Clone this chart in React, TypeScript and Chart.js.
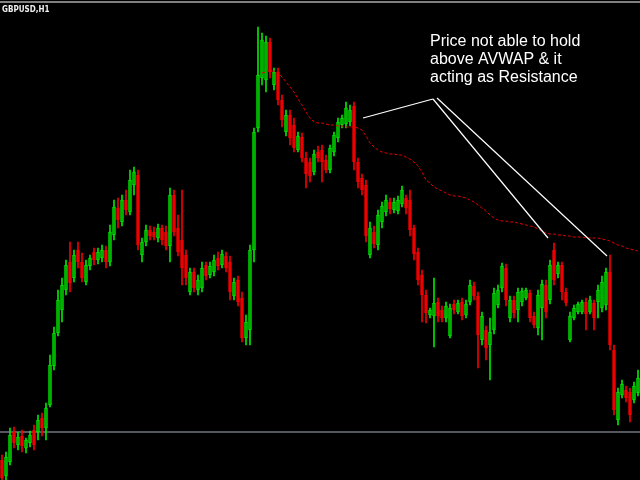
import React, { useEffect, useRef } from "react";
import { Chart, registerables } from "chart.js";

Chart.register(...registerables);

// Price values (pips above an arbitrary base), one entry per H1 candle
const opens = [
  20, 4, 18, 48, 35, 44, 32, 37, 50, 48,
  62, 52, 75, 114, 147, 170, 190, 218, 202, 230,
  218, 198, 214, 228, 220, 222, 230, 218, 245, 272,
  258, 280, 268, 295, 305, 225, 238, 250, 248, 242,
  252, 248, 234, 285, 252, 240, 225, 188, 208, 190,
  192, 215, 205, 208, 222, 215, 224, 218, 184, 200,
  182, 142, 150, 230, 352, 402, 400, 438, 395, 408,
  380, 348, 365, 355, 330, 343, 322, 318, 308, 328,
  330, 320, 310, 328, 342, 355, 356, 358, 374, 318,
  302, 295, 225, 248, 235, 258, 268, 278, 270, 269,
  276, 282, 280, 252, 228, 205, 185, 165, 164, 178,
  170, 162, 144, 176, 168, 178, 165, 178, 194, 184,
  140, 150, 135, 150, 175, 192, 212, 162, 180, 170,
  178, 182, 187, 164, 152, 172, 195, 180, 230, 206,
  215, 188, 140, 162, 168, 168, 178, 168, 177, 178,
  172, 175, 208, 130, 60, 85, 90, 88, 80, 87,
];
const highs = [
  25, 28, 52, 53, 48, 50, 42, 49, 55, 65,
  67, 77, 125, 153, 190, 202, 220, 238, 230, 238,
  227, 220, 225, 232, 232, 235, 234, 255, 280, 282,
  285, 290, 310, 313, 310, 242, 255, 254, 253, 256,
  255, 254, 292, 290, 265, 290, 230, 212, 212, 205,
  218, 218, 218, 225, 228, 230, 228, 224, 202, 204,
  188, 165, 235, 352, 453, 447, 444, 442, 412, 412,
  385, 370, 370, 362, 348, 347, 328, 322, 330, 334,
  335, 325, 335, 348, 362, 365, 378, 375, 378, 322,
  306, 300, 258, 254, 270, 278, 285, 282, 282, 284,
  294, 285, 290, 255, 232, 210, 190, 172, 202, 182,
  174, 178, 176, 180, 180, 182, 180, 200, 198, 188,
  168, 154, 162, 192, 195, 217, 216, 184, 184, 192,
  192, 192, 190, 168, 190, 200, 200, 220, 237, 218,
  218, 192, 168, 175, 178, 180, 182, 184, 180, 195,
  204, 212, 225, 135, 92, 100, 94, 92, 98, 110,
];
const lows = [
  -2, 0, 15, 32, 30, 28, 27, 33, 30, 40,
  44, 40, 73, 110, 144, 158, 185, 188, 198, 212,
  198, 195, 210, 215, 216, 218, 212, 214, 240, 252,
  254, 265, 265, 285, 230, 218, 234, 240, 240, 238,
  235, 230, 218, 244, 224, 195, 195, 185, 188, 185,
  188, 200, 202, 204, 210, 212, 208, 180, 180, 174,
  138, 135, 135, 218, 348, 395, 388, 402, 390, 375,
  353, 344, 335, 328, 328, 318, 292, 298, 305, 318,
  298, 307, 307, 324, 338, 352, 352, 354, 310, 292,
  285, 238, 222, 232, 230, 252, 264, 266, 267, 266,
  273, 266, 244, 220, 195, 158, 157, 162, 133, 158,
  158, 158, 142, 166, 166, 160, 162, 175, 180, 112,
  135, 120, 100, 146, 172, 188, 174, 158, 162, 158,
  174, 180, 158, 152, 145, 140, 162, 176, 195, 202,
  180, 174, 138, 160, 166, 166, 150, 166, 150, 162,
  168, 170, 130, 65, 55, 82, 78, 58, 77, 84,
];
const closes = [
  2, 23, 45, 37, 43, 34, 40, 45, 35, 60,
  52, 72, 115, 147, 180, 195, 215, 197, 225, 218,
  202, 215, 222, 220, 228, 230, 218, 248, 273, 260,
  280, 270, 300, 308, 235, 238, 250, 244, 243, 252,
  240, 234, 285, 248, 228, 212, 202, 208, 192, 200,
  212, 204, 214, 220, 214, 226, 212, 188, 198, 178,
  142, 158, 230, 348, 405, 440, 438, 408, 408, 380,
  360, 365, 342, 332, 344, 322, 306, 304, 326, 322,
  318, 310, 332, 345, 358, 362, 372, 370, 318, 298,
  290, 244, 252, 236, 265, 274, 280, 271, 278, 280,
  290, 272, 250, 226, 200, 185, 167, 170, 177, 164,
  162, 174, 172, 170, 177, 164, 176, 195, 184, 145,
  164, 132, 148, 187, 190, 214, 180, 180, 167, 188,
  189, 190, 162, 155, 185, 196, 168, 215, 200, 215,
  188, 177, 164, 172, 176, 178, 166, 180, 162, 190,
  198, 208, 135, 70, 88, 96, 82, 65, 94, 102,
];

// Anchored VWAP, starting at the candle of the swing high
const avwapStart = 65;
const avwap = [
  407, 408, 409, 409, 407,
  403, 398, 393, 388, 381, 375, 368, 362, 358, 357,
  357, 356, 355, 355, 354, 354, 353, 353, 353, 352,
  350, 344, 337, 333, 330, 328, 327, 326, 326, 325,
  325, 323, 321, 318, 314, 308, 300, 297, 293, 291,
  289, 287, 285, 284, 284, 283, 282, 280, 278, 275,
  272, 269, 265, 262, 260, 259, 259, 258, 258, 257,
  256, 255, 254, 253, 251, 249, 247, 246, 246, 245,
  245, 244, 244, 243, 243, 243, 242, 242, 242, 242,
  241, 240, 239, 237, 235, 234, 232, 231, 230, 229,
];

const supportLevel = 48;

// Hand-drawn annotation lines (candle index, price)
const noteLineA = [{ x: 90.25, y: 362 }, { x: 107.75, y: 381 }];
const noteLineB = [{ x: 107.75, y: 381 }, { x: 136.5, y: 242 }];
const noteLineC = [{ x: 108.75, y: 382 }, { x: 151.25, y: 224 }];

const symbolLabel = "GBPUSD,H1";
const noteText = ["Price not able to hold", "above AVWAP & it", "acting as Resistance"];

const BULL = "#00e600";
const BULL_FILL = "#00a800";
const BEAR = "#f00000";

export default function App() {
  const ref = useRef<HTMLCanvasElement | null>(null);

  useEffect(() => {
    document.body.style.margin = "0";
    document.body.style.background = "#000";
    const canvas = ref.current;
    if (!canvas) return;
    const n = opens.length;
    const idx = opens.map((_, i) => i);
    const isBull = idx.map((i) => closes[i] >= opens[i]);

    const wickData = idx.map((i) => ({ x: i, y: [lows[i], highs[i]] }));
    const bodyData = idx.map((i) => ({ x: i, y: [opens[i], closes[i]] }));
    const wickColors = idx.map((i) => (isBull[i] ? BULL : BEAR));
    const bodyFill = idx.map((i) => (isBull[i] ? BULL_FILL : BEAR));
    const bodyBorder = idx.map((i) => (isBull[i] ? BULL : BEAR));
    const avwapData = avwap.map((v, k) => ({ x: avwapStart + k, y: v }));

    const decor = {
      id: "mtDecor",
      beforeDraw(chart: any) {
        const ctx = chart.ctx;
        ctx.save();
        ctx.fillStyle = "#000";
        ctx.fillRect(0, 0, chart.width, chart.height);
        ctx.restore();
      },
      afterDraw(chart: any) {
        const ctx = chart.ctx;
        ctx.save();
        ctx.fillStyle = "#808080";
        ctx.fillRect(0, 1, chart.width, 2);
        ctx.fillStyle = "#f0f0f0";
        ctx.font = 'bold 8px "Liberation Sans Narrow", "DejaVu Sans Condensed", sans-serif';
        ctx.textBaseline = "alphabetic";
        ctx.fillText(symbolLabel, 2, 12);
        ctx.fillStyle = "#ffffff";
        ctx.font = '16px "Liberation Sans", Arial, sans-serif';
        noteText.forEach((t, k) => ctx.fillText(t, 430, 46 + k * 18));
        ctx.restore();
      },
    };

    const chart = new Chart(canvas, {
      type: "bar",
      data: {
        datasets: [
          {
            type: "line",
            data: [{ x: -0.5, y: supportLevel }, { x: n - 0.5, y: supportLevel }],
            borderColor: "#a8b0bc",
            borderWidth: 1,
            pointRadius: 0,
            order: 5,
          } as any,
          {
            type: "bar",
            data: wickData as any,
            backgroundColor: wickColors,
            barThickness: 1,
            grouped: false,
            order: 4,
          } as any,
          {
            type: "bar",
            data: bodyData as any,
            backgroundColor: bodyFill,
            borderColor: bodyBorder,
            borderWidth: 1,
            borderSkipped: false,
            barThickness: 3,
            minBarLength: 1,
            grouped: false,
            order: 3,
          } as any,
          {
            type: "line",
            data: avwapData,
            borderColor: "#e00000",
            borderWidth: 1,
            borderDash: [3, 2],
            pointRadius: 0,
            tension: 0,
            order: 2,
          } as any,
          ...[noteLineA, noteLineB, noteLineC].map((pts) => ({
            type: "line",
            data: pts,
            borderColor: "#ffffff",
            borderWidth: 1.2,
            pointRadius: 0,
            order: 1,
          })) as any,
        ],
      },
      options: {
        animation: false,
        responsive: false,
        maintainAspectRatio: false,
        devicePixelRatio: 1,
        layout: { padding: 0 },
        plugins: { legend: { display: false }, tooltip: { enabled: false }, title: { display: false } },
        scales: {
          x: { type: "linear", min: -0.5, max: n - 0.5, display: false, offset: false },
          y: { type: "linear", min: 0, max: 480, display: false },
        },
      },
      plugins: [decor],
    });
    return () => chart.destroy();
  }, []);

  return (
    <div style={{ width: 640, height: 480, background: "#000" }}>
      <canvas ref={ref} width={640} height={480} style={{ display: "block" }} />
    </div>
  );
}
